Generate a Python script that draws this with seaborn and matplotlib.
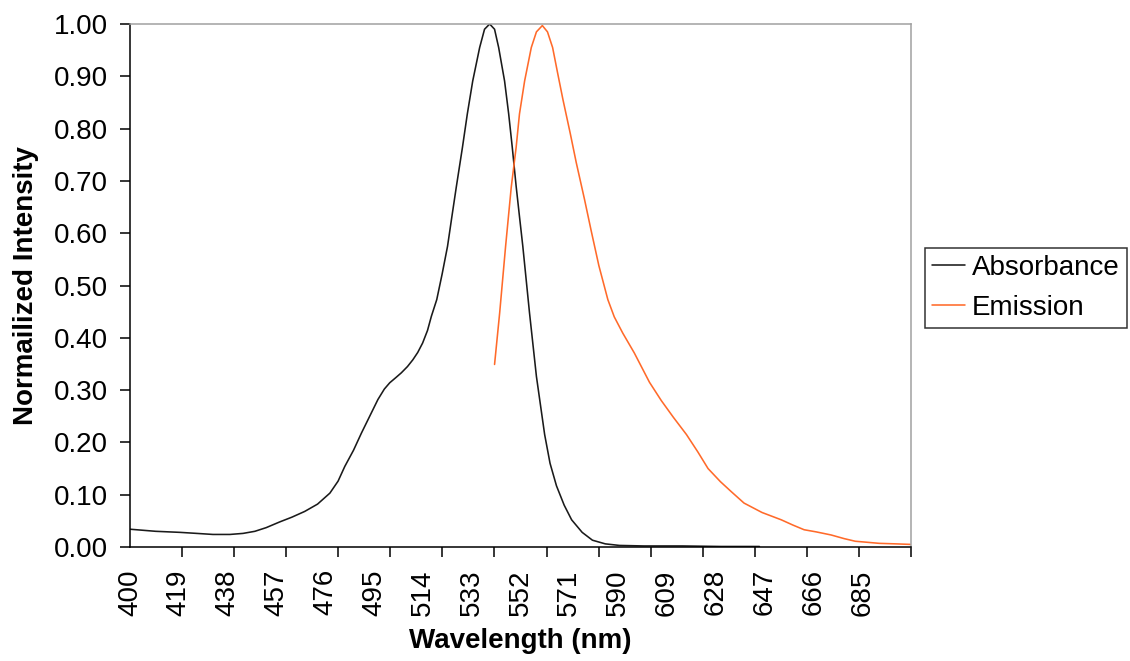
import matplotlib
matplotlib.use("Agg")
import matplotlib.pyplot as plt
import numpy as np
import pandas as pd
import seaborn as sns

# Absorbance spectrum (wavelength in nm, normalized intensity)
abs_nm = [400.0, 410.0, 419.4, 426.0, 432.3, 438.9, 444.0, 448.6, 453.0, 458.3,
          463.0, 468.0, 473.0, 477.8, 481.0, 483.6, 487.0, 490.1, 493.5, 496.5,
          499.0, 501.1, 503.5, 505.6, 508.0, 510.1, 512.0, 513.9, 515.8, 517.3,
          519.4, 521.5, 523.6, 525.3, 527.0, 529.4, 531.3, 533.4, 536.1, 538.0,
          540.0, 541.9, 543.5, 545.8, 547.4, 548.8, 550.3, 551.6, 552.9, 555.5,
          558.2, 561.4, 563.5, 566.0, 569.0, 571.9, 576.0, 580.0, 585.0, 590.5,
          600.0, 615.0, 630.0, 645.0]
abs_val = [0.034, 0.030, 0.028, 0.026, 0.024, 0.024, 0.026, 0.030, 0.037, 0.048,
           0.057, 0.068, 0.082, 0.103, 0.126, 0.154, 0.185, 0.218, 0.252, 0.282,
           0.302, 0.314, 0.324, 0.333, 0.345, 0.358, 0.372, 0.390, 0.414, 0.441,
           0.473, 0.522, 0.575, 0.632, 0.688, 0.764, 0.828, 0.891, 0.955, 0.990,
           1.000, 0.990, 0.955, 0.891, 0.828, 0.764, 0.690, 0.632, 0.575, 0.448,
           0.326, 0.215, 0.160, 0.117, 0.080, 0.052, 0.028, 0.013, 0.006, 0.003,
           0.002, 0.002, 0.001, 0.001]

# Emission spectrum
em_nm = [541.9, 543.9, 546.2, 548.4, 550.3, 551.6, 553.6, 556.2, 558.2, 560.5,
         562.5, 564.5, 566.5, 568.5, 571.4, 573.7, 576.9, 579.5, 582.5, 586.0,
         588.5, 591.8, 596.3, 602.2, 606.8, 611.5, 616.6, 621.0, 625.0, 629.8,
         634.0, 639.0, 646.0, 653.5, 658.0, 662.4, 667.0, 672.9, 678.0, 682.3,
         687.0, 691.6, 698.0, 703.7]
em_val = [0.349, 0.448, 0.575, 0.688, 0.764, 0.828, 0.891, 0.955, 0.985, 0.997,
          0.985, 0.955, 0.905, 0.856, 0.790, 0.735, 0.665, 0.605, 0.538, 0.473,
          0.440, 0.409, 0.371, 0.315, 0.280, 0.248, 0.215, 0.182, 0.150, 0.125,
          0.106, 0.084, 0.066, 0.052, 0.042, 0.033, 0.029, 0.023, 0.016, 0.011,
          0.009, 0.007, 0.006, 0.005]

x_tick_labels = [400, 419, 438, 457, 476, 495, 514, 533, 552, 571, 590, 609,
                 628, 647, 666, 685]
y_ticks = [0.0, 0.1, 0.2, 0.3, 0.4, 0.5, 0.6, 0.7, 0.8, 0.9, 1.0]
series_names = ["Absorbance", "Emission"]
series_colors = ["#1a1a1a", "#ff6a2a"]

x_min, x_max = 400, 704

df = pd.concat([
    pd.DataFrame({"Wavelength": abs_nm, "Intensity": abs_val, "Series": series_names[0]}),
    pd.DataFrame({"Wavelength": em_nm, "Intensity": em_val, "Series": series_names[1]}),
], ignore_index=True)

sns.set_theme(style="white")
plt.rcParams["font.family"] = ["Liberation Sans", "DejaVu Sans"]
plt.rcParams.update({
    "text.color": "black",
    "axes.labelcolor": "black",
    "xtick.color": "black",
    "ytick.color": "black",
})

fig = plt.figure(figsize=(11.30, 6.61), dpi=100)
ax = fig.add_axes([130 / 1130, 1 - 547 / 661, 781 / 1130, 523 / 661])

sns.lineplot(data=df, x="Wavelength", y="Intensity", hue="Series",
             palette=dict(zip(series_names, series_colors)), linewidth=1.15,
             ax=ax, legend=False, sort=True, estimator=None)

ax.set_xlim(x_min, x_max)
ax.set_ylim(0, 1.0)

# category labels (no tick line) and evenly spaced tick marks
ax.set_xticks(x_tick_labels)
ax.set_xticklabels([str(v) for v in x_tick_labels], rotation=90, fontsize=20)
ax.set_xticks(np.linspace(x_min, x_max, 16), minor=True)
ax.tick_params(axis="x", which="major", length=0, pad=16, labelcolor="black")
ax.tick_params(axis="x", which="minor", bottom=True, length=7.2, width=1.1,
               color="black", direction="out")

ax.set_yticks(y_ticks)
ax.set_yticklabels([f"{v:.2f}" for v in y_ticks], fontsize=20)
ax.tick_params(axis="y", which="major", left=True, length=7.2, width=1.1,
               pad=8.5, color="black", labelcolor="black", direction="out")

for side in ["left", "bottom"]:
    ax.spines[side].set_color("black")
    ax.spines[side].set_linewidth(1.1)
for side in ["top", "right"]:
    ax.spines[side].set_color("#a0a0a0")
    ax.spines[side].set_linewidth(1.1)

ax.set_xlabel("Wavelength (nm)", fontsize=20, fontweight="bold", labelpad=9,
              color="black")
ax.set_ylabel("Normailized Intensity", fontsize=20, fontweight="bold",
              labelpad=11, color="black")

handles = ax.get_lines()[:2]
leg = fig.legend(handles, series_names, loc="upper left",
                 bbox_to_anchor=(925 / 1130, 1 - 248 / 661),
                 bbox_transform=fig.transFigure, fontsize=20, frameon=True,
                 fancybox=False, borderaxespad=0, borderpad=0.25,
                 handlelength=1.2, handletextpad=0.25, labelspacing=0.5)
leg.get_frame().set_edgecolor("black")
leg.get_frame().set_linewidth(1.1)
for txt in leg.get_texts():
    txt.set_color("black")

fig.savefig("out.png", dpi=100)
